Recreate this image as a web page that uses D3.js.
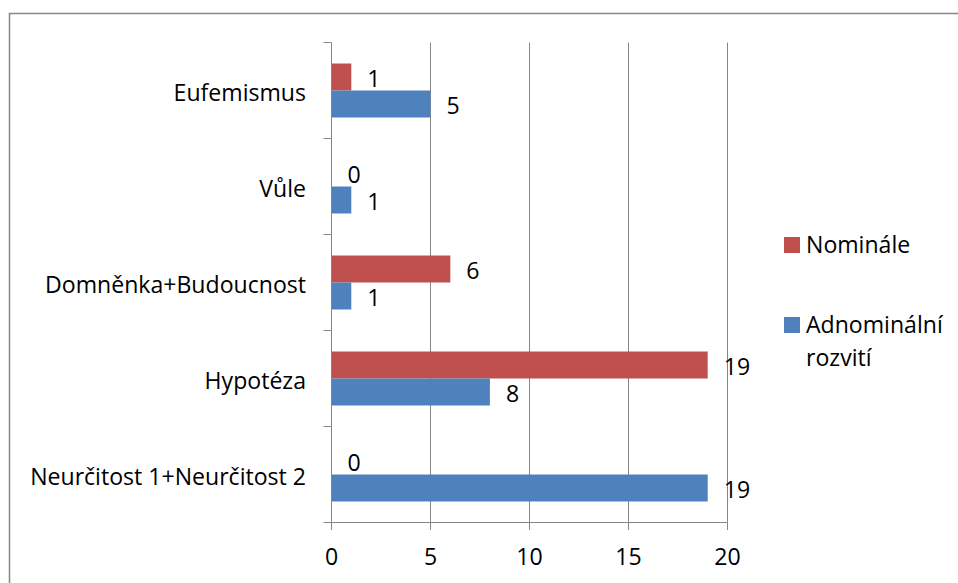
<!DOCTYPE html>
<html>
<head>
<meta charset="utf-8">
<script src="https://cdn.jsdelivr.net/npm/d3@7"></script>
<style>
  body { margin: 0; background: #fff; }
  svg { display: block; }
  text { font-family: "Open Sans", sans-serif; fill: #000; }
</style>
</head>
<body>
<svg width="958" height="583"></svg>
<script>
// categories from top to bottom
var categories = ["Eufemismus", "Vůle", "Domněnka+Budoucnost", "Hypotéza", "Neurčitost 1+Neurčitost 2"];
var seriesNames = ["Nominále", "Adnominální rozvití"];
var nominale = [1, 0, 6, 19, 0];
var adnominalni = [5, 1, 1, 8, 19];
var xTicks = [0, 5, 10, 15, 20];

var colors = ["#c0504d", "#4f81bd"];
var gridColor = "#868686";

var svg = d3.select("svg");

// size the font so the longest label is as wide as in the original (~276px)
var probe = svg.append("text").style("font-size", "20px").text(categories[4]);
var fontSize = 20 * 276 / probe.node().getComputedTextLength();
probe.remove();

// outer frame (only top and left edges show)
svg.append("path")
  .attr("d", "M9.5,583V13.5H958")
  .attr("fill", "none")
  .attr("stroke", gridColor)
  .attr("stroke-width", 1.5);

var x = d3.scaleLinear().domain([0, 20]).range([331.5, 727.5]);
var y = d3.scaleBand().domain(categories).range([42.5, 522.5]);
var sub = d3.scaleBand().domain([0, 1]).range([0, y.bandwidth()]).paddingOuter(0.778);

// gridlines
svg.append("g")
  .selectAll("line")
  .data(xTicks.slice(1))
  .join("line")
  .attr("x1", d => x(d)).attr("x2", d => x(d))
  .attr("y1", 42.5).attr("y2", 522.5)
  .attr("stroke", gridColor);

// bars
var rows = categories.map((c, i) => ({ cat: c, vals: [nominale[i], adnominalni[i]] }));
var g = svg.append("g")
  .selectAll("g")
  .data(rows)
  .join("g")
  .attr("transform", d => `translate(0,${y(d.cat)})`);

g.selectAll("rect")
  .data(d => d.vals.map((v, k) => ({ v, k })))
  .join("rect")
  .attr("x", x(0))
  .attr("y", d => sub(d.k))
  .attr("width", d => x(d.v) - x(0))
  .attr("height", sub.bandwidth())
  .attr("fill", d => colors[d.k]);

g.selectAll("text")
  .data(d => d.vals.map((v, k) => ({ v, k })))
  .join("text")
  .attr("x", d => x(d.v) + 16)
  .attr("y", d => sub(d.k) + sub.bandwidth() / 2 + 1)
  .attr("dominant-baseline", "central")
  .style("font-size", fontSize + "px")
  .text(d => d.v);

// y axis
svg.append("line")
  .attr("x1", x(0)).attr("x2", x(0))
  .attr("y1", 42.5).attr("y2", 522.5)
  .attr("stroke", gridColor);
svg.append("g")
  .selectAll("line")
  .data(d3.range(categories.length + 1))
  .join("line")
  .attr("x1", x(0) - 8).attr("x2", x(0))
  .attr("y1", i => 42.5 + i * y.step())
  .attr("y2", i => 42.5 + i * y.step())
  .attr("stroke", gridColor);
svg.append("g")
  .selectAll("text")
  .data(categories)
  .join("text")
  .attr("x", 306)
  .attr("y", d => y(d) + y.bandwidth() / 2 + 1)
  .attr("text-anchor", "end")
  .attr("dominant-baseline", "central")
  .style("font-size", fontSize + "px")
  .text(d => d);

// x axis
svg.append("line")
  .attr("x1", x(0)).attr("x2", x(20))
  .attr("y1", 522.5).attr("y2", 522.5)
  .attr("stroke", gridColor);
svg.append("g")
  .selectAll("line")
  .data(xTicks)
  .join("line")
  .attr("x1", d => x(d)).attr("x2", d => x(d))
  .attr("y1", 522.5).attr("y2", 530)
  .attr("stroke", gridColor);
svg.append("g")
  .selectAll("text")
  .data(xTicks)
  .join("text")
  .attr("x", d => x(d))
  .attr("y", 565)
  .attr("text-anchor", "middle")
  .style("font-size", fontSize + "px")
  .text(d => d);

// legend
var legend = svg.append("g").attr("transform", "translate(784,237)");
var items = legend.selectAll("g")
  .data(seriesNames)
  .join("g")
  .attr("transform", (d, i) => `translate(0,${i * 80})`);
items.append("rect")
  .attr("width", 16).attr("height", 16)
  .attr("fill", (d, i) => colors[i]);
items.append("text")
  .attr("x", 22)
  .attr("y", 16)
  .style("font-size", fontSize + "px")
  .selectAll("tspan")
  .data(d => d.split(" "))
  .join("tspan")
  .attr("x", 22)
  .attr("dy", (d, i) => i ? 33 : 0)
  .text(d => d);
</script>
</body>
</html>
